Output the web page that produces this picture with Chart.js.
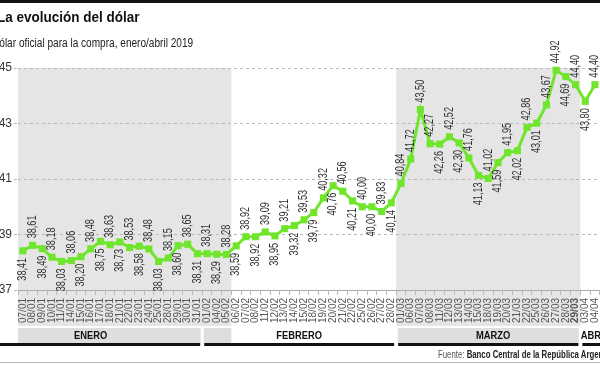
<!DOCTYPE html>
<html>
<head>
<meta charset="utf-8">
<script src="https://cdn.jsdelivr.net/npm/chart.js@4.4.1/dist/chart.umd.min.js"></script>
<style>
  html, body { margin: 0; padding: 0; background: #fff; overflow: hidden; width: 600px; height: 365px; }
  .wrap { position: relative; width: 600px; height: 365px; overflow: hidden; }
  canvas { position: absolute; left: 0; top: 0; z-index: 0; }
  .txt { position: absolute; z-index: 1; white-space: nowrap; transform-origin: 0 50%; font-family: "Liberation Sans", Arial, sans-serif; }
  .barra-top { position: absolute; z-index: 1; left: 0; top: 0; width: 600px; height: 3px; background: #111; }
  .titulo { left: -3px; top: 8px; font-size: 15px; font-weight: bold; color: #111; transform: scaleX(0.9); }
  .subtitulo { left: -8px; top: 36px; font-size: 12px; color: #222; transform: scaleX(0.84); }
  .fuente { left: 438px; top: 349px; font-size: 10px; color: #555; transform: scaleX(0.78); }
  .fuente b { color: #222; }
  .linea-bottom { position: absolute; z-index: 1; left: 0; top: 362px; width: 600px; height: 1px; background: #bbb; }
</style>
</head>
<body>
<div class="wrap">
  <canvas id="grafico" width="610" height="365"></canvas>
  <div class="barra-top"></div>
  <div class="txt titulo">La evolución del dólar</div>
  <div class="txt subtitulo">Dólar oficial para la compra, enero/abril 2019</div>
  <div class="txt fuente">Fuente: <b>Banco Central de la República Argentina</b></div>
  <div class="linea-bottom"></div>
</div>
<script>
// fechas (días hábiles)
const fechas = [
  '07/01','08/01','09/01','10/01','11/01','14/01','15/01','16/01','17/01','18/01',
  '21/01','22/01','23/01','24/01','25/01','28/01','29/01','30/01','31/01',
  '01/02','04/02','05/02','06/02','07/02','08/02','11/02','12/02','13/02','14/02','15/02',
  '18/02','19/02','20/02','21/02','22/02','25/02','26/02','27/02','28/02',
  '01/03','06/03','07/03','08/03','11/03','12/03','13/03','14/03','15/03','18/03','19/03',
  '20/03','21/03','22/03','25/03','26/03','27/03','28/03','29/03',
  '03/04','04/04'
];

// cotización compra ($)
const valores = [
  38.41, 38.61, 38.49, 38.18, 38.03, 38.06, 38.20, 38.48, 38.75, 38.63,
  38.73, 38.53, 38.58, 38.48, 38.03, 38.15, 38.60, 38.65, 38.31,
  38.31, 38.29, 38.28, 38.59, 38.92, 38.92, 39.09, 38.95, 39.21, 39.32, 39.53,
  39.79, 40.32, 40.76, 40.56, 40.21, 40.00, 40.00, 39.83, 40.14,
  40.84, 41.72, 43.50, 42.27, 42.26, 42.52, 42.30, 41.76, 41.13, 41.02, 41.59,
  41.95, 42.02, 42.86, 43.01, 43.67, 44.92, 44.69, 44.40,
  43.80, 44.40
];

const yTicks = [37, 39, 41, 43, 45];
const meses = ['ENERO', 'FEBRERO', 'MARZO', 'ABRIL'];
const finMes = [18, 38, 57];          // último índice de cada mes
const sombreado = [[0, 21], [39, 57]]; // franjas grises
const mesCentro = [7, 28.5, 48.5, 59];  // dónde va cada nombre de mes
const fechaDestacada = '29/03';

const verde = '#6fe52c';
const fuente = '"Liberation Sans", Arial, sans-serif';

// etiqueta arriba o abajo del punto (como en el original)
const labelArriba = i => {
  if (i <= 42) return i % 2 === 1 || i === 40 || i === 42;
  if (i <= 54) return i % 2 === 0;
  return i % 2 === 1;
};

const fondoPlugin = {
  id: 'fondo',
  beforeDraw(chart) {
    const { ctx, chartArea } = chart;
    const x = chart.scales.x;
    const paso = x.getPixelForValue(1) - x.getPixelForValue(0);
    const borde = i => x.getPixelForValue(i) + paso / 2;
    ctx.save();
    ctx.fillStyle = '#fff';
    ctx.fillRect(0, 0, chart.width, chart.height);
    // franjas grises del área y etiquetas
    ctx.fillStyle = '#e5e5e5';
    sombreado.forEach(([a, b]) => {
      const x0 = a === 0 ? chartArea.left : borde(a - 1);
      ctx.fillRect(x0, chartArea.top, borde(b) - x0, 326 - chartArea.top);
    });
    // banda de meses
    ctx.fillStyle = '#dedede';
    sombreado.forEach(([a, b]) => {
      const x0 = a === 0 ? chartArea.left : borde(a - 1);
      ctx.fillRect(x0, 328, borde(b) - x0, 15);
    });
    ctx.fillStyle = '#fff';
    finMes.forEach(i => ctx.fillRect(borde(i) - 1.5, 326, 3, 18));
    // línea negra bajo la banda
    ctx.fillStyle = '#111';
    let ini = 0;
    finMes.concat([fechas.length - 1]).forEach((fin, k) => {
      const xa = k === 0 ? 0 : borde(ini - 1) + 2;
      const xb = k === finMes.length ? chart.width : borde(fin) - 2;
      ctx.fillRect(xa, 343, xb - xa, 3);
      ini = fin + 1;
    });
    // nombres de los meses
    ctx.fillStyle = '#111';
    ctx.font = 'bold 11px ' + fuente;
    ctx.textAlign = 'center';
    ctx.textBaseline = 'middle';
    meses.forEach((m, k) => {
      ctx.save();
      ctx.translate(x.getPixelForValue(mesCentro[k]), 336);
      ctx.scale(0.85, 1);
      ctx.fillText(m, 0, 0);
      ctx.restore();
    });
    ctx.restore();
  }
};

const etiquetasPlugin = {
  id: 'etiquetas',
  afterDatasetsDraw(chart) {
    const { ctx } = chart;
    const meta = chart.getDatasetMeta(0);
    ctx.save();
    ctx.font = '12px ' + fuente;
    ctx.fillStyle = '#333';
    ctx.textBaseline = 'middle';
    meta.data.forEach((pt, i) => {
      const txt = valores[i].toFixed(2).replace('.', ',');
      const arriba = labelArriba(i);
      ctx.save();
      ctx.translate(pt.x, arriba ? pt.y - 7 : pt.y + 7);
      ctx.rotate(-Math.PI / 2);
      ctx.scale(0.76, 1);
      ctx.textAlign = arriba ? 'left' : 'right';
      ctx.fillText(txt, 0, 0);
      ctx.restore();
    });
    ctx.restore();
  }
};

new Chart(document.getElementById('grafico'), {
  type: 'line',
  data: {
    labels: fechas,
    datasets: [{
      data: valores,
      borderColor: verde,
      borderWidth: 3,
      backgroundColor: verde,
      pointStyle: 'rect',
      pointRadius: 5,
      pointBorderWidth: 0,
      pointBackgroundColor: verde,
      tension: 0,
      clip: false
    }]
  },
  options: {
    responsive: false,
    animation: false,
    devicePixelRatio: 1,
    layout: { autoPadding: false, padding: { top: 68, left: 0, right: 9, bottom: 0 } },
    plugins: { legend: { display: false }, tooltip: { enabled: false } },
    scales: {
      x: {
        offset: true,
        afterFit: s => { s.height = 75; },
        grid: { drawOnChartArea: false, tickLength: 5, color: '#bbb', offset: true },
        border: { display: true, color: '#aaa', dash: [2, 2] },
        ticks: {
          autoSkip: false,
          minRotation: 90,
          maxRotation: 90,
          padding: 3,
          color: '#555',
          font: ctx => ({
            family: fuente,
            size: 10,
            weight: fechas[ctx.index] === fechaDestacada ? 'bold' : 'normal'
          })
        }
      },
      y: {
        min: yTicks[0],
        max: yTicks[yTicks.length - 1],
        afterFit: s => { s.width = 18; },
        afterBuildTicks: s => { s.ticks = yTicks.map(v => ({ value: v })); },
        grid: { color: '#b8b8b8', tickLength: 4, tickBorderDash: [3, 3] },
        border: { display: false, dash: [3, 3] },
        ticks: {
          color: '#333',
          padding: 2,
          font: { family: fuente, size: 12 }
        }
      }
    }
  },
  plugins: [fondoPlugin, etiquetasPlugin]
});
</script>
</body>
</html>
